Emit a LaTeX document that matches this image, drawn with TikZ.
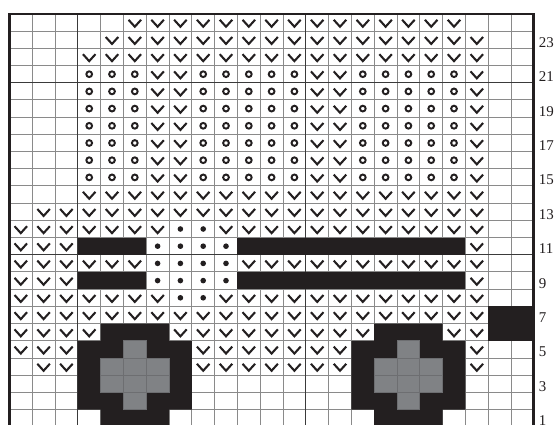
\documentclass[tikz,border=0pt]{standalone}
\usepackage{fontspec}
\setmainfont{Liberation Serif}
\definecolor{ink}{HTML}{231F20}
\definecolor{gridgray}{HTML}{8A8A8A}
\definecolor{heavygray}{HTML}{3A3A3A}
\definecolor{wheelgray}{HTML}{808285}
\definecolor{wheelline}{HTML}{6D6E71}
\tikzset{
  gridln/.style={draw=gridgray, line width=0.75pt},
  heavyln/.style={draw=heavygray, line width=0.9pt},
  framel/.style={draw=ink, line width=2.2pt},
  blk/.style={fill=ink},
  gry/.style={fill=wheelgray, draw=wheelline, line width=0.6pt},
  rowlab/.style={anchor=base west, inner sep=0pt, font=\fontsize{11.2}{12}\selectfont, text=ink, xshift=3.6pt, yshift=0.8pt},
  chk/.pic={\draw[ink, line width=1.55pt, line join=miter, line cap=butt] (-4.7pt,2.1pt) -- (0pt,-3.1pt) -- (4.7pt,2.1pt);},
  ring/.pic={\draw[ink, line width=1.45pt] (0pt,0pt) circle[radius=2.15pt];},
  knitdot/.pic={\fill[ink] (0pt,0pt) circle[radius=2.1pt];}
}
\newcommand{\knitrow}[4]{\foreach \cc in {#3,...,#4}{\pic at (\cc-0.5,#2-0.5) {#1};}}
\begin{document}
\begin{tikzpicture}[x=17.1pt,y=12.9pt]
\useasboundingbox (-0.41228,0.16279) rectangle (23.9298,24.8140);
\fill[white] (-0.41228,0.16279) rectangle (23.9298,24.8140);
% grid
\foreach \i in {1,...,22}{\draw[gridln] (\i,0) -- (\i,24);}
\foreach \j in {1,...,23}{\draw[gridln] (0,\j) -- (23,\j);}
\draw[heavyln] (3,0) -- (3,24);
\draw[heavyln] (13,0) -- (13,24);
\draw[heavyln] (0,10) -- (23,10);
\draw[heavyln] (0,20) -- (23,20);
% black bars
\fill[blk] (3,10) rectangle (6,11);
\fill[blk] (10,10) rectangle (20,11);
\fill[blk] (3,8) rectangle (6,9);
\fill[blk] (10,8) rectangle (20,9);
\fill[blk] (21,5) rectangle (23,7);
% wheels
\foreach \s in {0,12}{
  \begin{scope}[xshift=\s*17.1pt]
  \fill[blk] (4,0) -- (7,0) -- (7,1) -- (8,1) -- (8,5) -- (7,5) -- (7,6) -- (4,6) -- (4,5) -- (3,5) -- (3,1) -- (4,1) -- cycle;
  \draw[gry] (5,4) rectangle (6,5);
  \draw[gry] (4,3) rectangle (5,4);
  \draw[gry] (5,3) rectangle (6,4);
  \draw[gry] (6,3) rectangle (7,4);
  \draw[gry] (4,2) rectangle (5,3);
  \draw[gry] (5,2) rectangle (6,3);
  \draw[gry] (6,2) rectangle (7,3);
  \draw[gry] (5,1) rectangle (6,2);
  \end{scope}
}
% frame
\draw[framel] (0,0) rectangle (23,24);
% symbols
\knitrow{chk}{24}{6}{20}
\knitrow{chk}{23}{5}{21}
\knitrow{chk}{22}{4}{21}
\foreach \r in {15,...,21}{
  \knitrow{ring}{\r}{4}{6}
  \knitrow{chk}{\r}{7}{8}
  \knitrow{ring}{\r}{9}{13}
  \knitrow{chk}{\r}{14}{15}
  \knitrow{ring}{\r}{16}{20}
  \pic at (20.5,\r-0.5) {chk};
}
\knitrow{chk}{14}{4}{21}
\knitrow{chk}{13}{2}{21}
\knitrow{chk}{12}{1}{7}
\knitrow{knitdot}{12}{8}{9}
\knitrow{chk}{12}{10}{21}
\knitrow{chk}{11}{1}{3}
\knitrow{knitdot}{11}{7}{10}
\pic at (20.5,10.5) {chk};
\knitrow{chk}{10}{1}{6}
\knitrow{knitdot}{10}{7}{10}
\knitrow{chk}{10}{11}{21}
\knitrow{chk}{9}{1}{3}
\knitrow{knitdot}{9}{7}{10}
\pic at (20.5,8.5) {chk};
\knitrow{chk}{8}{1}{7}
\knitrow{knitdot}{8}{8}{9}
\knitrow{chk}{8}{10}{21}
\knitrow{chk}{7}{1}{21}
\knitrow{chk}{6}{1}{4}
\knitrow{chk}{6}{8}{16}
\knitrow{chk}{6}{20}{21}
\knitrow{chk}{5}{1}{3}
\knitrow{chk}{5}{9}{15}
\pic at (20.5,4.5) {chk};
\knitrow{chk}{4}{2}{3}
\knitrow{chk}{4}{9}{15}
\pic at (20.5,3.5) {chk};
% row labels
\foreach \r in {1,3,...,23}{\node[rowlab] (lab\r) at (23,\r-1) {\r};}
\end{tikzpicture}
\end{document}
